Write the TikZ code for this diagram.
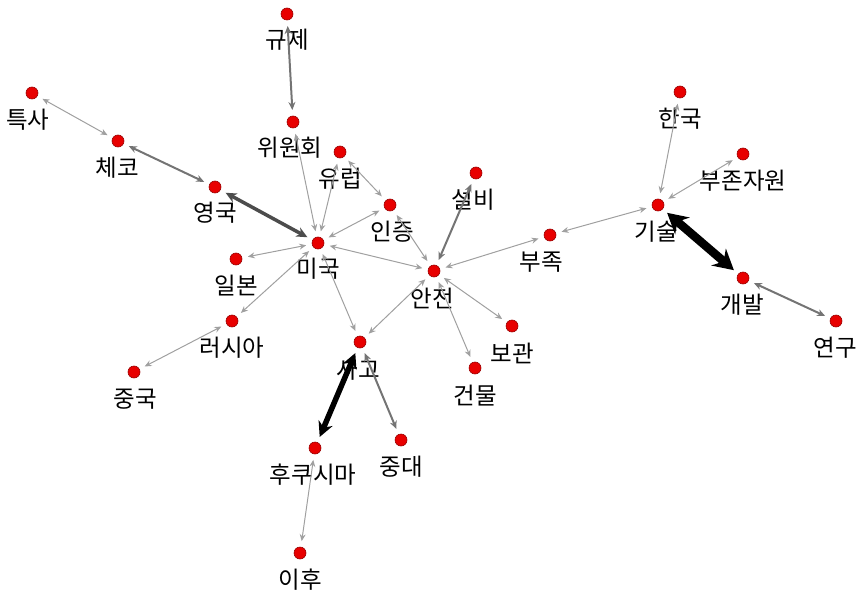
\documentclass[tikz,border=0pt]{standalone}
\usepackage{fontspec}
\newfontfamily\krfont{Noto Sans CJK KR}
\usetikzlibrary{arrows.meta}
\definecolor{dotred}{HTML}{E80000}
\definecolor{dotrim}{HTML}{9A0000}
\definecolor{thinc}{HTML}{A0A0A0}
\definecolor{midc}{HTML}{747474}
\begin{document}
\begin{tikzpicture}[x=1pt,y=-1pt,
  dot/.style={circle,fill=dotred,draw=dotrim,line width=0.6pt,minimum size=12pt,inner sep=0pt,outer sep=6pt},
  lab/.style={font=\krfont\fontsize{23.5}{23.5}\selectfont,inner sep=0pt,anchor=center},
  ethin/.style={draw=thinc,line width=1pt,{Stealth[length=7pt,width=6pt]}-{Stealth[length=7pt,width=6pt]}},
  emid/.style={draw=midc,line width=2pt,{Stealth[length=8pt,width=7pt]}-{Stealth[length=8pt,width=7pt]}},
  ebig/.style={draw=black!70,line width=3.5pt,{Stealth[length=11pt,width=10pt]}-{Stealth[length=11pt,width=10pt]}},
  ehuge/.style={draw=black,line width=5.5pt,{Stealth[length=15pt,width=15pt]}-{Stealth[length=15pt,width=15pt]}},
  emax/.style={draw=black,line width=8.5pt,{Stealth[length=20pt,width=22pt]}-{Stealth[length=20pt,width=22pt]}}
]
\useasboundingbox (0,0) rectangle (858,596);
% nodes
\node[dot] (gyu) at (287,14) {};
\node[dot] (wi) at (293,122) {};
\node[dot] (tk) at (32,93) {};
\node[dot] (ce) at (118,141) {};
\node[dot] (yg) at (215,187) {};
\node[dot] (yu) at (340,152) {};
\node[dot] (ij) at (390,205) {};
\node[dot] (mi) at (318,243) {};
\node[dot] (il) at (236,259) {};
\node[dot] (sb) at (476,173) {};
\node[dot] (an) at (434,271) {};
\node[dot] (bj) at (550,235) {};
\node[dot] (gs) at (658,205) {};
\node[dot] (hg) at (680,92) {};
\node[dot] (bz) at (743,154) {};
\node[dot] (gb) at (743,278) {};
\node[dot] (yn) at (836,321) {};
\node[dot] (rs) at (232,321) {};
\node[dot] (jg) at (134,372) {};
\node[dot] (sg) at (360,342) {};
\node[dot] (bg) at (512,326) {};
\node[dot] (gm) at (475,368) {};
\node[dot] (hk) at (315,448) {};
\node[dot] (jd) at (401,440) {};
\node[dot] (ih) at (300,553) {};
% labels
\node[lab] (gyuL) at (287,40) {규제};
\node[lab] (wiL) at (290,148) {위원회};
\node[lab] (tkL) at (28,120) {특사};
\node[lab] (ceL) at (117,168) {체코};
\node[lab] (ygL) at (215,213) {영국};
\node[lab] (yuL) at (340,179) {유럽};
\node[lab] (ijL) at (392,232) {인증};
\node[lab] (miL) at (318,269) {미국};
\node[lab] (ilL) at (236,286) {일본};
\node[lab] (sbL) at (473,200) {설비};
\node[lab] (anL) at (432,298) {안전};
\node[lab] (bjL) at (541,262) {부족};
\node[lab] (gsL) at (656,232) {기술};
\node[lab] (hgL) at (680,119) {한국};
\node[lab] (bzL) at (743,181) {부존자원};
\node[lab] (gbL) at (742,305) {개발};
\node[lab] (ynL) at (835,348) {연구};
\node[lab] (rsL) at (232,348) {러시아};
\node[lab] (jgL) at (135,399) {중국};
\node[lab] (sgL) at (358,370) {사고};
\node[lab] (bgL) at (512,353) {보관};
\node[lab] (gmL) at (475,396) {건물};
\node[lab] (hkL) at (313,475) {후쿠시마};
\node[lab] (jdL) at (401,467) {중대};
\node[lab] (ihL) at (300,580) {이후};
% edges
\draw[ethin] (tk) -- (ce);
\draw[emid] (ce) -- (yg);
\draw[ebig] (yg) -- (mi);
\draw[emid] (gyu) -- (wi);
\draw[ethin] (wi) -- (mi);
\draw[ethin] (yu) -- (mi);
\draw[ethin] (yu) -- (ij);
\draw[ethin] (ij) -- (mi);
\draw[ethin] (ij) -- (an);
\draw[ethin] (mi) -- (an);
\draw[ethin] (mi) -- (il);
\draw[ethin] (mi) -- (rs);
\draw[ethin] (mi) -- (sg);
\draw[ethin] (rs) -- (jg);
\draw[emid] (sb) -- (an);
\draw[ethin] (an) -- (bj);
\draw[ethin] (bj) -- (gs);
\draw[ethin] (gs) -- (hg);
\draw[ethin] (gs) -- (bz);
\draw[emax] (gs) -- (gb);
\draw[emid] (gb) -- (yn);
\draw[ethin] (an) -- (sg);
\draw[ethin] (an) -- (bg);
\draw[ethin] (an) -- (gm);
\draw[ehuge] (sg) -- (hk);
\draw[emid] (sg) -- (jd);
\draw[ethin] (hk) -- (ih);
\end{tikzpicture}
\end{document}
